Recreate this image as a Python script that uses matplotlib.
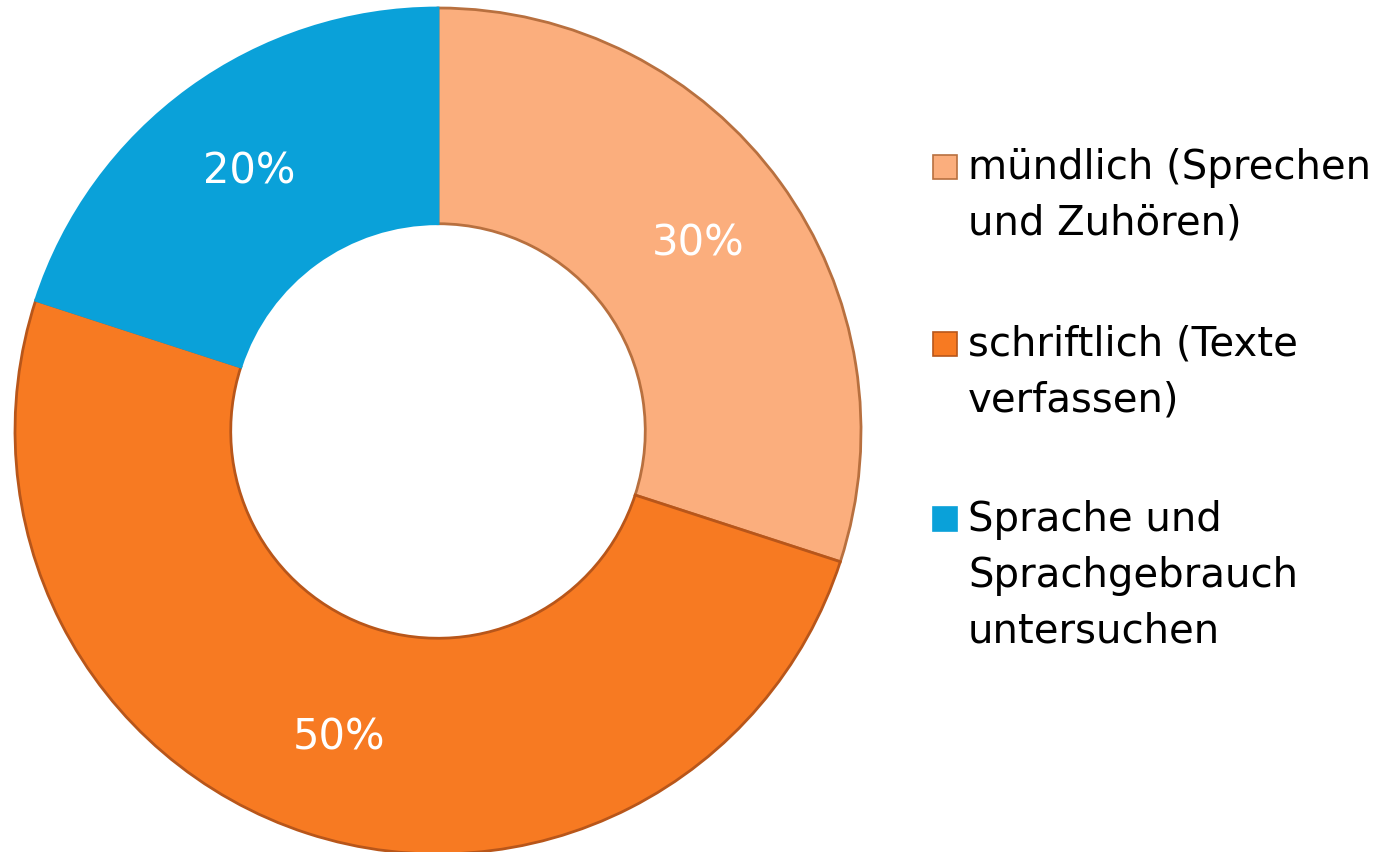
import matplotlib
matplotlib.use('Agg')
import matplotlib.pyplot as plt
from matplotlib.patches import Rectangle

# Daten
labels = ['mündlich (Sprechen\nund Zuhören)',
          'schriftlich (Texte\nverfassen)',
          'Sprache und\nSprachgebrauch\nuntersuchen']
values = [30, 50, 20]
colors = ['#FBAE7D', '#F77A22', '#0AA1D9']
edges = ['#B8703F', '#B8561A', '#0AA1D9']

plt.rcParams['font.family'] = ['DejaVu Sans']

W, H = 1382, 853
fig = plt.figure(figsize=(W / 100, H / 100), dpi=100)

# Ring: Mitte bei (438, 432) px, Radius ~423 px
cx, cy, R = 438, 432, 423
ax = fig.add_axes([(cx - R) / W, (H - cy - R) / H, 2 * R / W, 2 * R / H])
wedges, texts, autotexts = ax.pie(
    values, colors=colors, startangle=90, counterclock=False,
    radius=1.0, autopct='%d%%', pctdistance=0.76,
    wedgeprops=dict(width=0.51, linewidth=2),
    textprops=dict(color='white', fontsize=30))
for w, ec in zip(wedges, edges):
    w.set_edgecolor(ec)
ax.set_xlim(-1, 1)
ax.set_ylim(-1, 1)
ax.set_aspect('equal')
ax.axis('off')

# Legende rechts, von Hand gesetzt (jede Zeile einzeln)
tops = [168, 345, 520]
line_h = 56
for lab, col, ec, ty in zip(labels, colors, edges, tops):
    fig.patches.append(Rectangle((933 / W, (H - ty - 12) / H), 24 / W, 24 / H,
                                 transform=fig.transFigure, facecolor=col,
                                 edgecolor=ec, linewidth=1.2))
    for i, line in enumerate(lab.split('\n')):
        fig.text(968 / W, (H - ty - i * line_h) / H, line, fontsize=29,
                 color='black', va='center', ha='left')

fig.savefig('out.png', dpi=100)
